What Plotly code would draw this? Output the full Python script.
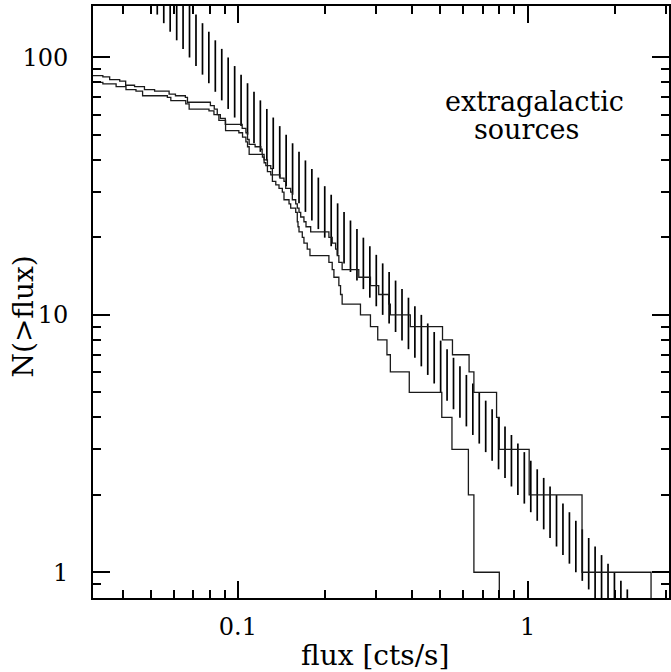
import plotly.graph_objects as go

# ---- Data ----
# Upper cumulative curve N(>flux): flux where each level starts, and the level
a_flux = [0.0300, 0.0342, 0.0361, 0.0391, 0.0410, 0.0440, 0.0476, 0.0516, 0.0579, 0.0609,
          0.0659, 0.0670, 0.0804, 0.0829, 0.0849, 0.0870, 0.0905, 0.1035, 0.1066, 0.1080,
          0.1094, 0.1147, 0.1200, 0.1213, 0.1232, 0.1265, 0.1299, 0.1316, 0.1397, 0.1443,
          0.1463, 0.1522, 0.1542, 0.1584, 0.1604, 0.1626, 0.1648, 0.1691, 0.1719, 0.1784,
          0.2062, 0.2117, 0.2175, 0.2203, 0.2232, 0.2291, 0.2615, 0.2869, 0.3064, 0.3316,
          0.3361, 0.3938, 0.5087, 0.5506, 0.6284, 0.6529, 0.7818, 0.7988, 1.013, 1.542, 2.669]
a_n = [85, 84, 82, 81, 78, 77, 75, 74, 72, 71,
       70, 67, 65, 63, 60, 58, 55, 53, 51, 48,
       46, 45, 44, 42, 40, 38, 37, 35, 34, 33,
       31, 30, 28, 27, 26, 25, 24, 23, 22, 21,
       20, 19, 18, 17, 16, 15, 14, 13, 12, 11,
       10, 9, 8, 7, 6, 5, 4, 3, 2, 1, 0]

# Lower cumulative curve
b_flux = [0.0300, 0.0342, 0.0380, 0.0411, 0.0445, 0.0469, 0.0571, 0.0587, 0.0661, 0.0679,
          0.0795, 0.0827, 0.0860, 0.0907, 0.1008, 0.1038, 0.1066, 0.1080, 0.1094, 0.1216,
          0.1232, 0.1249, 0.1265, 0.1299, 0.1316, 0.1352, 0.1387, 0.1424, 0.1443, 0.1502,
          0.1522, 0.1584, 0.1604, 0.1613, 0.1626, 0.1669, 0.1691, 0.1736, 0.1774, 0.2062,
          0.2117, 0.2146, 0.2232, 0.2262, 0.2291, 0.2650, 0.2869, 0.3040, 0.3271, 0.3361,
          0.3906, 0.5058, 0.5484, 0.6249, 0.6529, 0.7990]
b_n = [80, 79, 77, 75, 74, 71, 70, 68, 66, 63,
       62, 60, 57, 52, 51, 49, 47, 45, 42, 41,
       39, 38, 36, 35, 33, 32, 31, 30, 28, 27,
       26, 25, 23, 22, 21, 20, 19, 18, 17, 16,
       15, 14, 13, 12, 11, 10, 9, 8, 7, 6,
       5, 4, 3, 2, 1, 0]

# Hatched band: flux of each hatch line, lower and upper end
band_flux = [0.0527, 0.0555, 0.0584, 0.0615, 0.0647, 0.0681, 0.0717, 0.0755, 0.0794, 0.0836,
             0.0880, 0.0926, 0.0975, 0.1026, 0.1080, 0.1137, 0.1196, 0.1259, 0.1325, 0.1395,
             0.1468, 0.1545, 0.1626, 0.1711, 0.1801, 0.1896, 0.1995, 0.2100, 0.2210, 0.2326,
             0.2448, 0.2577, 0.2712, 0.2855, 0.3005, 0.3162, 0.3328, 0.3503, 0.3687, 0.3881,
             0.4084, 0.4299, 0.4524, 0.4762, 0.5012, 0.5275, 0.5552, 0.5843, 0.6150, 0.6473,
             0.6813, 0.7171, 0.7547, 0.7943, 0.8360, 0.8799, 0.9261, 0.9747, 1.026, 1.080,
             1.137, 1.196, 1.259, 1.325, 1.395, 1.468, 1.545, 1.626, 1.711, 1.801,
             1.896, 1.995, 2.100, 2.210]
band_lo = [146.8, 135.9, 125.9, 116.6, 108.0, 100.0, 92.61, 85.77, 79.43, 73.56,
           68.13, 63.10, 58.43, 54.12, 50.12, 46.42, 42.99, 39.81, 36.87, 34.15,
           31.62, 29.29, 27.12, 25.12, 23.26, 21.54, 19.95, 18.48, 17.11, 15.85,
           14.68, 13.59, 12.59, 11.66, 10.80, 10.00, 9.261, 8.577, 7.943, 7.356,
           6.813, 6.310, 5.843, 5.412, 5.012, 4.642, 4.299, 3.981, 3.687, 3.415,
           3.162, 2.929, 2.712, 2.512, 2.326, 2.154, 1.995, 1.848, 1.711, 1.585,
           1.468, 1.359, 1.259, 1.166, 1.080, 1.000, 0.9261, 0.8577, 0.7943, 0.7356,
           0.6813, 0.6310, 0.5843, 0.5412]
band_hi = [232.6, 215.4, 199.5, 184.8, 171.1, 158.5, 146.8, 135.9, 125.9, 116.6,
           108.0, 100.0, 92.61, 85.77, 79.43, 73.56, 68.13, 63.10, 58.43, 54.12,
           50.12, 46.42, 42.99, 39.81, 36.87, 34.15, 31.62, 29.29, 27.12, 25.12,
           23.26, 21.54, 19.95, 18.48, 17.11, 15.85, 14.68, 13.59, 12.59, 11.66,
           10.80, 10.00, 9.261, 8.577, 7.943, 7.356, 6.813, 6.310, 5.843, 5.412,
           5.012, 4.642, 4.299, 3.981, 3.687, 3.415, 3.162, 2.929, 2.712, 2.512,
           2.326, 2.154, 1.995, 1.848, 1.711, 1.585, 1.468, 1.359, 1.259, 1.166,
           1.080, 1.000, 0.9261, 0.8577]

x_tickvals = [0.1, 1]
x_ticktext = ["0.1", "1"]
x_minor = [0.04, 0.05, 0.06, 0.07, 0.08, 0.09, 0.2, 0.3, 0.4, 0.5, 0.6, 0.7, 0.8, 0.9, 2, 3]
y_tickvals = [1, 10, 100]
y_ticktext = ["1", "10", "100"]
y_minor = [0.9, 2, 3, 4, 5, 6, 7, 8, 9, 20, 30, 40, 50, 60, 70, 80, 90]

# ---- Figure ----
fig = go.Figure()

hx, hy = [], []
for f, lo, hi in zip(band_flux, band_lo, band_hi):
    hx += [f, f, None]
    hy += [lo, hi, None]
fig.add_trace(go.Scatter(x=hx, y=hy, mode="lines",
                         line=dict(color="black", width=1.7),
                         hoverinfo="skip", showlegend=False))

# a count of 0 is drawn as a drop below the axis floor (log scale)
for fl, n in ((a_flux, a_n), (b_flux, b_n)):
    fig.add_trace(go.Scatter(x=fl, y=[v if v > 0 else 0.1 for v in n], mode="lines",
                             line=dict(color="#1a1a1a", width=1.3, shape="hv"),
                             showlegend=False))

SERIF = "DejaVu Serif"
tick_font = dict(family=SERIF, size=24, color="black")
title_font = dict(family=SERIF, size=28, color="black")
note_font = dict(family=SERIF, size=27, color="black")
common = dict(type="log", showline=True, linecolor="black", linewidth=2,
              mirror="allticks", ticks="inside", ticklen=17, tickwidth=1.5,
              tickcolor="black", showgrid=False, zeroline=False, tickfont=tick_font,
              tickmode="array")

fig.update_layout(
    width=671, height=672,
    margin=dict(l=93, r=0, t=6, b=74),
    plot_bgcolor="white", paper_bgcolor="white",
    showlegend=False,
    xaxis=dict(**common, range=[-1.5, 0.4883],
               tickvals=x_tickvals, ticktext=x_ticktext, ticklabelstandoff=6,
               minor=dict(ticks="inside", ticklen=8, tickwidth=1.5, tickcolor="black",
                          tickmode="array", tickvals=x_minor, showgrid=False)),
    yaxis=dict(**common, range=[-0.1, 2.2],
               tickvals=y_tickvals, ticktext=y_ticktext, ticklabelstandoff=18,
               minor=dict(ticks="inside", ticklen=8, tickwidth=1.5, tickcolor="black",
                          tickmode="array", tickvals=y_minor, showgrid=False)),
    annotations=[
        dict(text="flux [cts/s]", xref="paper", yref="paper", x=0.4896, y=-0.0963,
             xanchor="center", yanchor="middle", showarrow=False, font=title_font),
        dict(text="N(>flux)", xref="paper", yref="paper", x=-0.121, y=0.476,
             xanchor="center", yanchor="middle", textangle=-90, showarrow=False,
             font=title_font),
        dict(text="extragalactic", xref="paper", yref="paper", x=0.767, y=0.838,
             xanchor="center", yanchor="middle", showarrow=False, font=note_font),
        dict(text="sources", xref="paper", yref="paper", x=0.752, y=0.792,
             xanchor="center", yanchor="middle", showarrow=False, font=note_font),
    ],
)

fig.write_html("out.html", config={"displayModeBar": False},
               post_script="document.body.style.margin='0';document.body.style.padding='0';")
